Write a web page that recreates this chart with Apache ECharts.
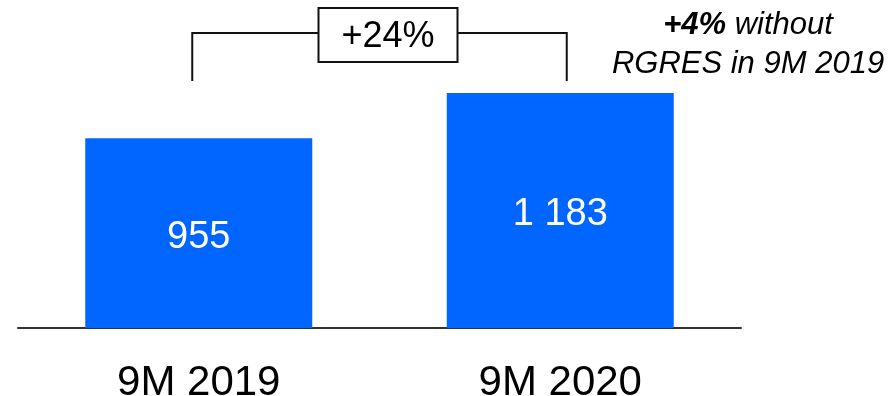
<!DOCTYPE html>
<html>
<head>
<meta charset="utf-8">
<script src="https://cdn.jsdelivr.net/npm/echarts@6/dist/echarts.min.js"></script>
<style>
  html, body { margin: 0; padding: 0; background: #ffffff; }
  #chart { width: 892px; height: 396px; }
</style>
</head>
<body>
<div id="chart"></div>
<script>
// Nine-month totals
const periods = ['9M 2019', '9M 2020'];
const totals = [955, 1183];
const growthLabel = '+24%';
const noteBold = '+4%';
const noteRest = ' without';
const noteLine2 = 'RGRES in 9M 2019';

const FONT = '"Liberation Sans", Arial, sans-serif';
const BLUE = '#0066FF';

function spaced(v) {
  return String(v).replace(/\B(?=(\d{3})+(?!\d))/g, ' ');
}

const chart = echarts.init(document.getElementById('chart'), null, { renderer: 'canvas' });

chart.setOption({
  animation: false,
  backgroundColor: '#ffffff',
  grid: {
    left: 18, width: 723, top: 30, bottom: 68,
    containLabel: false, outerBoundsMode: 'none'
  },
  xAxis: {
    type: 'category',
    data: periods,
    axisLine: { show: true, lineStyle: { color: '#333333', width: 2 } },
    axisTick: { show: false },
    axisLabel: {
      fontFamily: FONT, fontSize: 42, color: '#000000', margin: 34
    }
  },
  yAxis: {
    type: 'value', min: 0, max: 1500,
    show: false, splitLine: { show: false }
  },
  series: [{
    type: 'bar',
    data: totals,
    barWidth: 227,
    itemStyle: { color: BLUE },
    label: {
      show: true, position: 'inside', color: '#ffffff',
      fontFamily: FONT, fontSize: 38, offset: [0, 4],
      formatter: p => spaced(p.value)
    }
  }]
});

// Bracket comparing the two periods, positioned from the axis scales
function drawBracket() {
  const p0 = chart.convertToPixel({ seriesIndex: 0 }, [0, totals[0]]);
  const p1 = chart.convertToPixel({ seriesIndex: 0 }, [1, totals[1]]);
  const topBar = Math.min(p0[1], p1[1]);
  const xL = p0[0] - 6.5;
  const xR = p1[0] + 6.5;
  const yBottom = topBar - 12;
  const yTop = 33;
  const boxW = 139, boxH = 54;
  const cx = (xL + xR) / 2 + 8.5;
  const cy = 35;

  chart.setOption({
    graphic: [
      {
        type: 'polyline', silent: true,
        shape: { points: [[xL, yBottom], [xL, yTop], [xR, yTop], [xR, yBottom]] },
        style: { stroke: '#111111', lineWidth: 2, fill: null }
      },
      {
        type: 'rect', silent: true,
        shape: { x: cx - boxW / 2, y: cy - boxH / 2, width: boxW, height: boxH },
        style: { fill: '#ffffff', stroke: '#111111', lineWidth: 2 }
      },
      {
        type: 'text', silent: true,
        x: cx, y: cy + 2,
        style: {
          text: growthLabel, fontFamily: FONT, fontSize: 36, fill: '#000000',
          align: 'center', verticalAlign: 'middle'
        }
      },
      {
        type: 'text', silent: true,
        x: 748, y: 6,
        style: {
          text: '{b|' + noteBold + '}{i|' + noteRest + '}\n{i|' + noteLine2 + '}',
          align: 'center', verticalAlign: 'top', fill: '#000000',
          rich: {
            b: { fontFamily: FONT, fontSize: 31, fontStyle: 'italic', fontWeight: 'bold', lineHeight: 39, fill: '#000000' },
            i: { fontFamily: FONT, fontSize: 31, fontStyle: 'italic', lineHeight: 39, fill: '#000000' }
          }
        }
      }
    ]
  });
}
drawBracket();
</script>
</body>
</html>
